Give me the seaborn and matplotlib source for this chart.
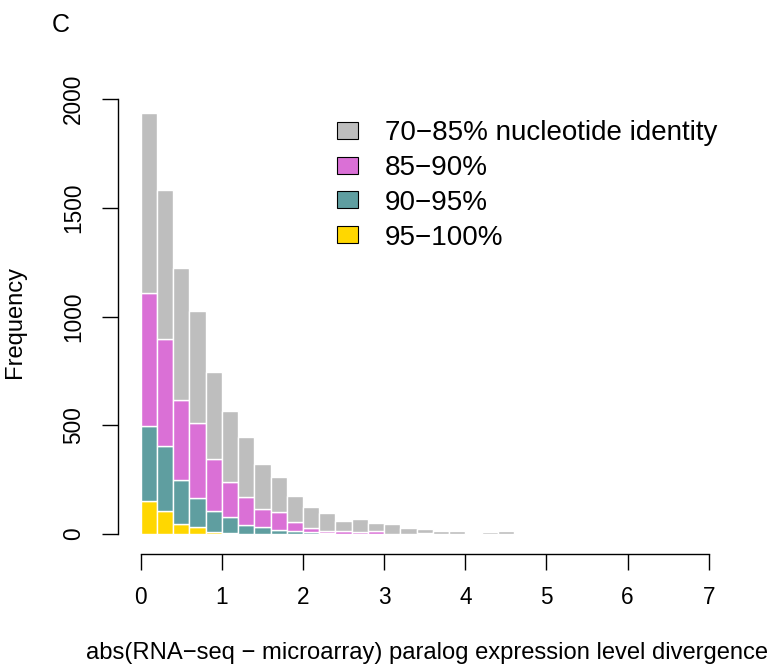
import numpy as np
import pandas as pd
import matplotlib
matplotlib.use("Agg")
import matplotlib.pyplot as plt
import seaborn as sns
from matplotlib.patches import Patch

# ---- data (counts per histogram bin of width 0.2, starting at 0) ----
bin_width = 0.2
n_bins = 26
cat_70_85 = [828, 683, 610, 514, 397, 325, 276, 207, 164, 123, 98, 83, 47,
             59, 36, 48, 29, 19, 14, 14, 2, 10, 14, 0, 0, 2]
cat_85_90 = [610, 494, 368, 346, 240, 159, 127, 82, 80, 41, 21, 12, 11,
             11, 15, 0, 0, 6, 0, 0, 0, 0, 0, 0, 0, 0]
cat_90_95 = [344, 301, 203, 132, 98, 76, 41, 31, 20, 12, 7, 3, 2,
             0, 0, 0, 0, 0, 0, 0, 0, 0, 0, 0, 0, 0]
cat_95_100 = [153, 104, 44, 34, 9, 4, 2, 0, 0, 0, 0, 0, 0,
              0, 0, 0, 0, 0, 0, 0, 0, 0, 0, 0, 0, 0]
labels = ["70\u221285% nucleotide identity", "85\u221290%", "90\u221295%", "95\u2212100%"]
colors = ["#BEBEBE", "#DA70D6", "#5F9EA0", "#FFD700"]
x_ticks = [0, 1, 2, 3, 4, 5, 6, 7]
y_ticks = [0, 500, 1000, 1500, 2000]

edges = np.arange(n_bins + 1) * bin_width
centers = (edges[:-1] + edges[1:]) / 2

rows = []
for lab, vals in zip(labels, [cat_70_85, cat_85_90, cat_90_95, cat_95_100]):
    for c, v in zip(centers, vals):
        rows.append({"div": float(c), "count": float(v), "group": lab})
df = pd.DataFrame(rows)

sns.set_theme(style="ticks")
plt.rcParams["font.family"] = ["Liberation Sans", "DejaVu Sans"]
plt.rcParams.update({"text.color": "black", "axes.labelcolor": "black",
                     "xtick.color": "black", "ytick.color": "black"})

W, H = 771, 668
fig = plt.figure(figsize=(W / 100, H / 100), dpi=100)
L, R, T, B = 118, 715, 95, 554
ax = fig.add_axes([L / W, 1 - B / H, (R - L) / W, (B - T) / H])

sns.histplot(data=df, x="div", weights="count", hue="group", hue_order=labels,
             palette=dict(zip(labels, colors)), binwidth=bin_width,
             binrange=(0, n_bins * bin_width), multiple="stack",
             alpha=1, edgecolor="white", linewidth=1.0, legend=False, ax=ax)

# axis ranges mimic R's detached axes
px_per_x = 81.15
x0_px = 140.7
px_per_y = 0.21735
y0_px = 534.0
ax.set_xlim((L - x0_px) / px_per_x, (R - x0_px) / px_per_x)
ax.set_ylim((y0_px - B) / px_per_y, (y0_px - T) / px_per_y)

for s in ["top", "right"]:
    ax.spines[s].set_visible(False)
for s in ["left", "bottom"]:
    ax.spines[s].set_color("black")
    ax.spines[s].set_linewidth(1.0)
ax.spines["left"].set_bounds(0, 2000)
ax.spines["bottom"].set_bounds(0, 7)

ax.set_xticks(x_ticks)
ax.set_xticklabels([str(t) for t in x_ticks])
ax.set_yticks(y_ticks)
ax.set_yticklabels([str(t) for t in y_ticks])
ax.tick_params(axis="both", which="major", length=11.5, width=1.0, color="black",
               labelsize=16.3, labelcolor="black", direction="out")
ax.tick_params(axis="x", pad=11.5)
ax.tick_params(axis="y", pad=12, labelrotation=90)
for lab in ax.get_yticklabels():
    lab.set_va("center")

ax.set_xlabel("abs(RNA\u2212seq \u2212 microarray) paralog expression level divergence",
              fontsize=17.1, va="center", color="black")
ax.xaxis.set_label_coords((426.5 - L) / (R - L), (B - 653) / (B - T))
ax.set_ylabel("Frequency", fontsize=17.1, va="center", color="black")
ax.yaxis.set_label_coords((15.0 - L) / (R - L), (B - 321.7) / (B - T))

handles = [Patch(facecolor=c, edgecolor="black", linewidth=0.8) for c in colors]
leg = ax.legend(handles, labels, loc="upper left",
                bbox_to_anchor=(336.7 / W, 1 - 120.0 / H), bbox_transform=fig.transFigure,
                frameon=False, fontsize=20, handlelength=0.78, handleheight=0.565,
                handletextpad=0.96, labelspacing=0.32, borderpad=0, borderaxespad=0)
for t in leg.get_texts():
    t.set_color("black")

fig.text(52 / W, 1 - 31.7 / H, "C", fontsize=18, ha="left", va="baseline", color="black")

fig.savefig("out.png", dpi=100, facecolor="white")
